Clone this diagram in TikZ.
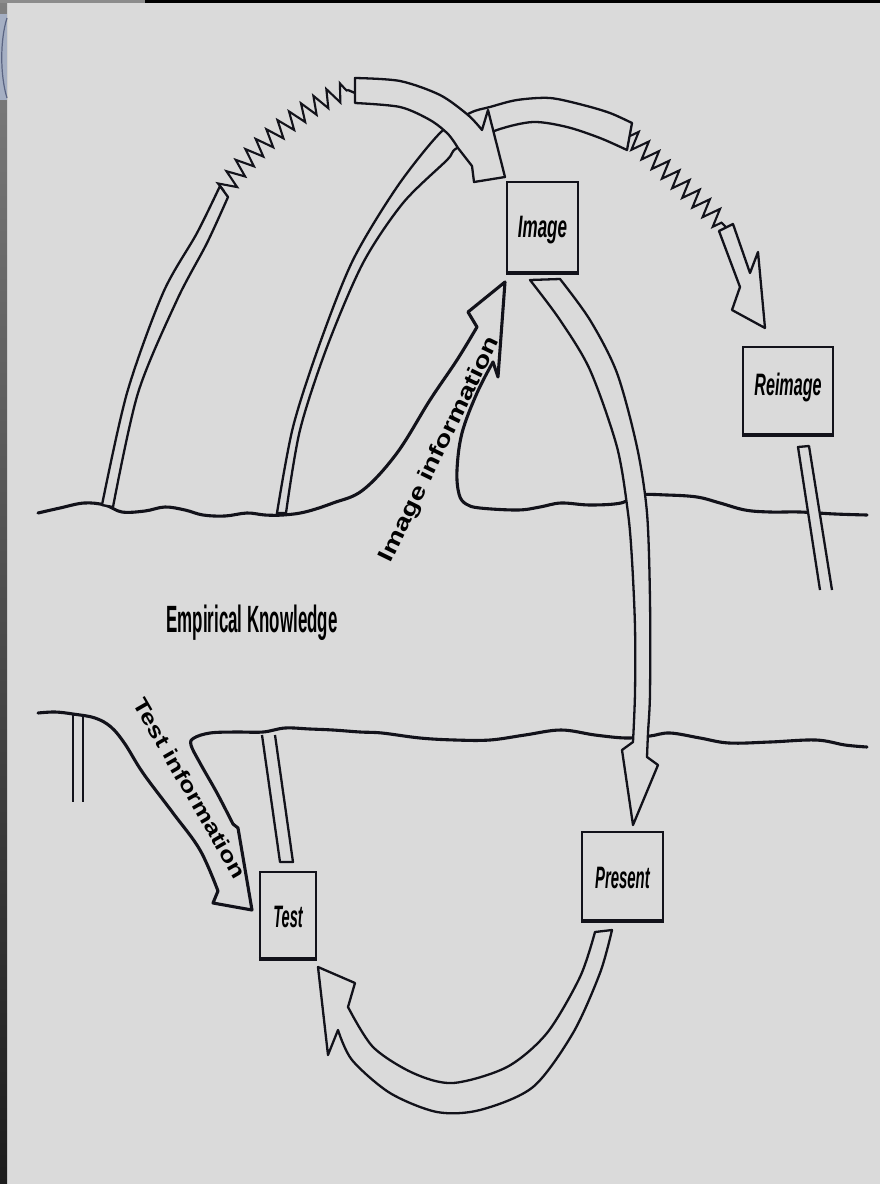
\documentclass[tikz,border=0pt]{standalone}
\usepackage{fontspec}
\setmainfont{Liberation Sans}
\usetikzlibrary{decorations.pathmorphing}
\definecolor{bgc}{RGB}{218,218,218}
\definecolor{ink}{RGB}{18,18,26}
\definecolor{stripA}{RGB}{128,128,128}
\definecolor{stripB}{RGB}{28,28,28}
\definecolor{topgray}{RGB}{140,140,140}
\definecolor{bluey}{RGB}{165,175,195}
\definecolor{bluedark}{RGB}{90,100,130}
\newcommand\labfont{\fontsize{31}{31}\selectfont\bfseries\itshape}
\begin{document}
\begin{tikzpicture}[x=1pt,y=-1pt,
  ground/.style={draw=ink,line width=3.1pt,line join=round,line cap=round},
  bandline/.style={draw=ink,line width=2.3pt,line join=round},
  boxst/.style={draw=ink,line width=2.2pt,fill=bgc,inner sep=0pt},
  spring/.style={draw=ink,line width=2.1pt,line join=miter,decorate,
    decoration={zigzag,amplitude=9pt,segment length=14pt}},
  lbl/.style={inner sep=0pt,anchor=base},
]
\useasboundingbox (0,0) rectangle (880,1184);
% background and frame remnants
\fill[bgc] (0,0) rectangle (880,1184);
\shade[top color=stripA,bottom color=stripB] (0,0) rectangle (7,1184);
\fill[bluey] (0,14) rectangle (7,100);
\draw[bluedark,line width=1.2pt] (7,18) .. controls (0,40) and (0,75) .. (7,98);
\fill[topgray] (0,0) rectangle (145,3);
\fill[black] (145,0) rectangle (880,3);

% upper ground line with the "Image information" arrow
\draw[ground] plot[smooth,tension=0.6] coordinates {(38,513) (60,508) (84,503) (105,505) (122,512) (145,511) (165,507) (185,510) (203,515) (225,516) (247,513) (265,515) (283,515) (305,512) (333,503) (363,490) (397,453) (430,400) (457,360) (477,327)}
  -- (468,312) -- (505,282) -- (498,377) -- (493,362);
\draw[ground] plot[smooth,tension=0.6] coordinates {(493,362) (477,393) (462,433) (457,470) (459,494) (466,504) (480,508) (518,510) (540,507) (561,503) (590,505) (621,503) (637,495) (667,495) (697,497) (720,503) (745,510) (770,512) (800,512) (835,514) (867,515)};

% lower ground line with the "Test information" arrow
\draw[ground] plot[smooth,tension=0.6] coordinates {(38,713) (55,712) (73,714) (95,718) (111,727) (125,744) (143,773) (173,813) (200,850) (218,891)}
  -- (213,903) -- (252,910) -- (238,828) -- (233,824);
\draw[ground] plot[smooth,tension=0.6] coordinates {(233,824) (217,793) (200,763) (191,745) (194,738) (210,733) (235,732) (263,732) (285,728) (310,729) (333,730) (360,732) (382,733) (420,738) (455,740) (490,740) (525,735) (561,730) (595,735) (626,738) (650,736) (670,733) (700,738) (729,743) (770,742) (816,740) (845,745) (867,747)};

% middle arch continuing as band to the right
\filldraw[bandline,fill=bgc] plot[smooth] coordinates {(277,513) (293,427) (320,343) (353,260) (397,187) (440,133) (470,113) (490,107) (517,100) (550,98) (583,105) (610,113) (632,123)}
  -- (627,150) -- plot[smooth] coordinates {(627,150) (600,138) (567,127) (533,122) (497,130) (457,148) (447,160) (403,203) (363,263) (327,347) (300,430) (286,513)} -- cycle;
\draw[spring] (630,136) -- (726,227);
\filldraw[bandline,fill=bgc] (719,231) -- (740,287) -- (732,310) -- (765,328) -- (758,252) -- (750,273) -- (733,224) -- cycle;

% left arch
\filldraw[bandline,fill=bgc] plot[smooth] coordinates {(102,505) (127,393) (163,293) (197,233) (220,186)}
  -- (228,197) -- plot[smooth] coordinates {(228,197) (207,243) (177,300) (138,393) (113,507)} -- cycle;
\draw[spring] (224,191) .. controls (245,155) and (300,106) .. (348,90);
\draw[bandline] (348,90) -- (355,93);
\filldraw[bandline,fill=bgc] plot[smooth] coordinates {(355,78) (400,81) (440,95) (468,115) (482,130)}
  -- (488,110) -- (505,177) -- (474,182) -- (472,166) -- (458,148)
  -- plot[smooth] coordinates {(458,148) (448,134) (430,120) (400,107) (355,103)} -- cycle;

% Image -> Present
\filldraw[bandline,fill=bgc] (530,280) -- (560,279) -- plot[smooth] coordinates {(560,279) (590,320) (617,373) (637,447) (647,513) (650,600) (650,693) (648,733) (647,757)}
  -- (658,765) -- (633,825) -- (622,750) -- (633,742)
  -- plot[smooth] coordinates {(633,742) (635,693) (635,627) (632,560) (628,513) (617,447) (590,370) (560,320) (530,280)} -- cycle;

% Reimage stem
\fill[bgc] (798,447) -- (809,446) -- (832,592) -- (820,592) -- cycle;
\draw[bandline] (820,590) -- (798,447) -- (809,446) -- (832,590);

% Test stem and left stem
\fill[bgc] (262,737) -- (275,737) -- (293,862) -- (280,862) -- cycle;
\draw[bandline] (262,735) -- (280,862) -- (293,862) -- (275,735);
\draw[bandline] (73,715) -- (73,802);
\draw[bandline] (83,717) -- (83,802);

% Present -> Test
\filldraw[bandline,fill=bgc] (595,932) -- (612,930) -- plot[smooth] coordinates {(612,930) (600,973) (573,1033) (533,1087) (480,1110) (437,1112) (390,1093) (352,1060) (338,1030)}
  -- (328,1055) -- (318,967) -- (355,983) -- (348,1007)
  -- plot[smooth] coordinates {(348,1007) (373,1047) (413,1073) (453,1083) (507,1067) (547,1033) (580,977) (595,932)} -- cycle;

% boxes
\node[boxst,minimum width=71pt,minimum height=90pt] (image) at (542.5,227) {};
\node[boxst,minimum width=90pt,minimum height=87pt] (reimage) at (788,390.5) {};
\node[boxst,minimum width=56pt,minimum height=86pt] (test) at (288,915) {};
\node[boxst,minimum width=81pt,minimum height=88pt] (present) at (622.5,876) {};
\foreach \b in {image,reimage,test,present}
  \draw[ink,line width=3.8pt] (\b.south west) -- (\b.south east);

% labels
\node[lbl] (imaget) at (542.5,237) {\scalebox{0.55}[1]{\labfont Image}};
\node[lbl] (reimaget) at (788,395) {\scalebox{0.52}[1]{\labfont Reimage}};
\node[lbl] (presentt) at (622.5,888) {\scalebox{0.48}[1]{\labfont Present}};
\node[lbl] (testt) at (288,927) {\scalebox{0.47}[1]{\labfont Test}};
\node[lbl] (ek) at (252,632) {\scalebox{0.445}[1]{\fontsize{38}{38}\selectfont\bfseries Empirical Knowledge}};
\node[inner sep=0pt,rotate=64] (iinfo) at (440,450) {\scalebox{1.3}[1]{\fontsize{22}{22}\selectfont\bfseries Image information}};
\node[inner sep=0pt,rotate=-60] (tinfo) at (190,788) {\scalebox{1.25}[1]{\fontsize{21}{21}\selectfont\bfseries Test information}};
\end{tikzpicture}
\end{document}
